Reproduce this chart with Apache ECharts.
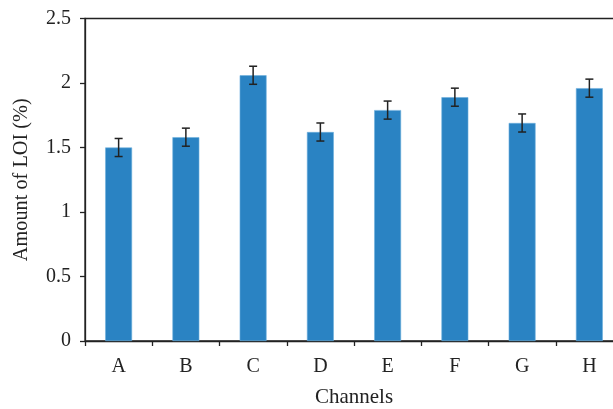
<!DOCTYPE html>
<html><head><meta charset="utf-8">
<script src="https://cdn.jsdelivr.net/npm/echarts@6/dist/echarts.min.js"></script>
<style>html,body{margin:0;padding:0;background:#fff}#c{width:613px;height:409px}</style>
</head><body><div id="c"></div>
<script>
const categories = ['A','B','C','D','E','F','G','H'];
const values = [1.50, 1.58, 2.06, 1.62, 1.79, 1.89, 1.69, 1.96];
const errors = [0.07, 0.07, 0.07, 0.07, 0.07, 0.07, 0.07, 0.07];
const yTicks = [0, 0.5, 1, 1.5, 2, 2.5];

const chart = echarts.init(document.getElementById('c'), null, {renderer:'canvas'});
const font = '"Liberation Serif", "DejaVu Serif", serif';
const errData = values.map((v,i)=>[i, v-errors[i], v+errors[i]]);
chart.setOption({
  animation:false,
  grid:{left:85, top:18.5, bottom:68, right:-10, outerBoundsMode:'none', containLabel:false,
    show:true, borderColor:'#222', borderWidth:1.3},
  xAxis:{type:'category', data:categories, name:'Channels', nameLocation:'middle', nameGap:46,
    nameTextStyle:{fontFamily:font, fontSize:21, color:'#222'},
    axisLine:{lineStyle:{color:'#222', width:1.3}},
    axisTick:{show:true, length:5, lineStyle:{color:'#222', width:1.3}},
    axisLabel:{fontFamily:font, fontSize:20, color:'#222', margin:16}},
  yAxis:{type:'value', min:0, max:2.5, interval:0.5, name:'Amount of LOI (%)', nameLocation:'middle', nameGap:53,
    nameTextStyle:{fontFamily:font, fontSize:20.3, color:'#222'},
    axisLine:{show:true, lineStyle:{color:'#222', width:1.3}},
    axisTick:{show:true, length:5, lineStyle:{color:'#222', width:1.3}},
    splitLine:{show:false},
    axisLabel:{fontFamily:font, fontSize:20, color:'#222', margin:14,
      formatter:v=>String(yTicks.find(t=>Math.abs(t-v)<1e-9) ?? v)}},
  series:[
    {type:'bar', data:values, barWidth:'40%', itemStyle:{color:'#2a83c3', borderColor:'#6fb0de', borderWidth:0.6}},
    {type:'custom', data:errData, z:10,
      renderItem:(params, api)=>{
        const x = api.value(0);
        const lo = api.coord([x, api.value(1)]);
        const hi = api.coord([x, api.value(2)]);
        const hw = 4;
        const st = {stroke:'#222', lineWidth:1.5};
        return {type:'group', children:[
          {type:'line', shape:{x1:lo[0], y1:lo[1], x2:hi[0], y2:hi[1]}, style:st},
          {type:'line', shape:{x1:lo[0]-hw, y1:lo[1], x2:lo[0]+hw, y2:lo[1]}, style:st},
          {type:'line', shape:{x1:hi[0]-hw, y1:hi[1], x2:hi[0]+hw, y2:hi[1]}, style:st}
        ]};
      }}
  ]
});
</script></body></html>
